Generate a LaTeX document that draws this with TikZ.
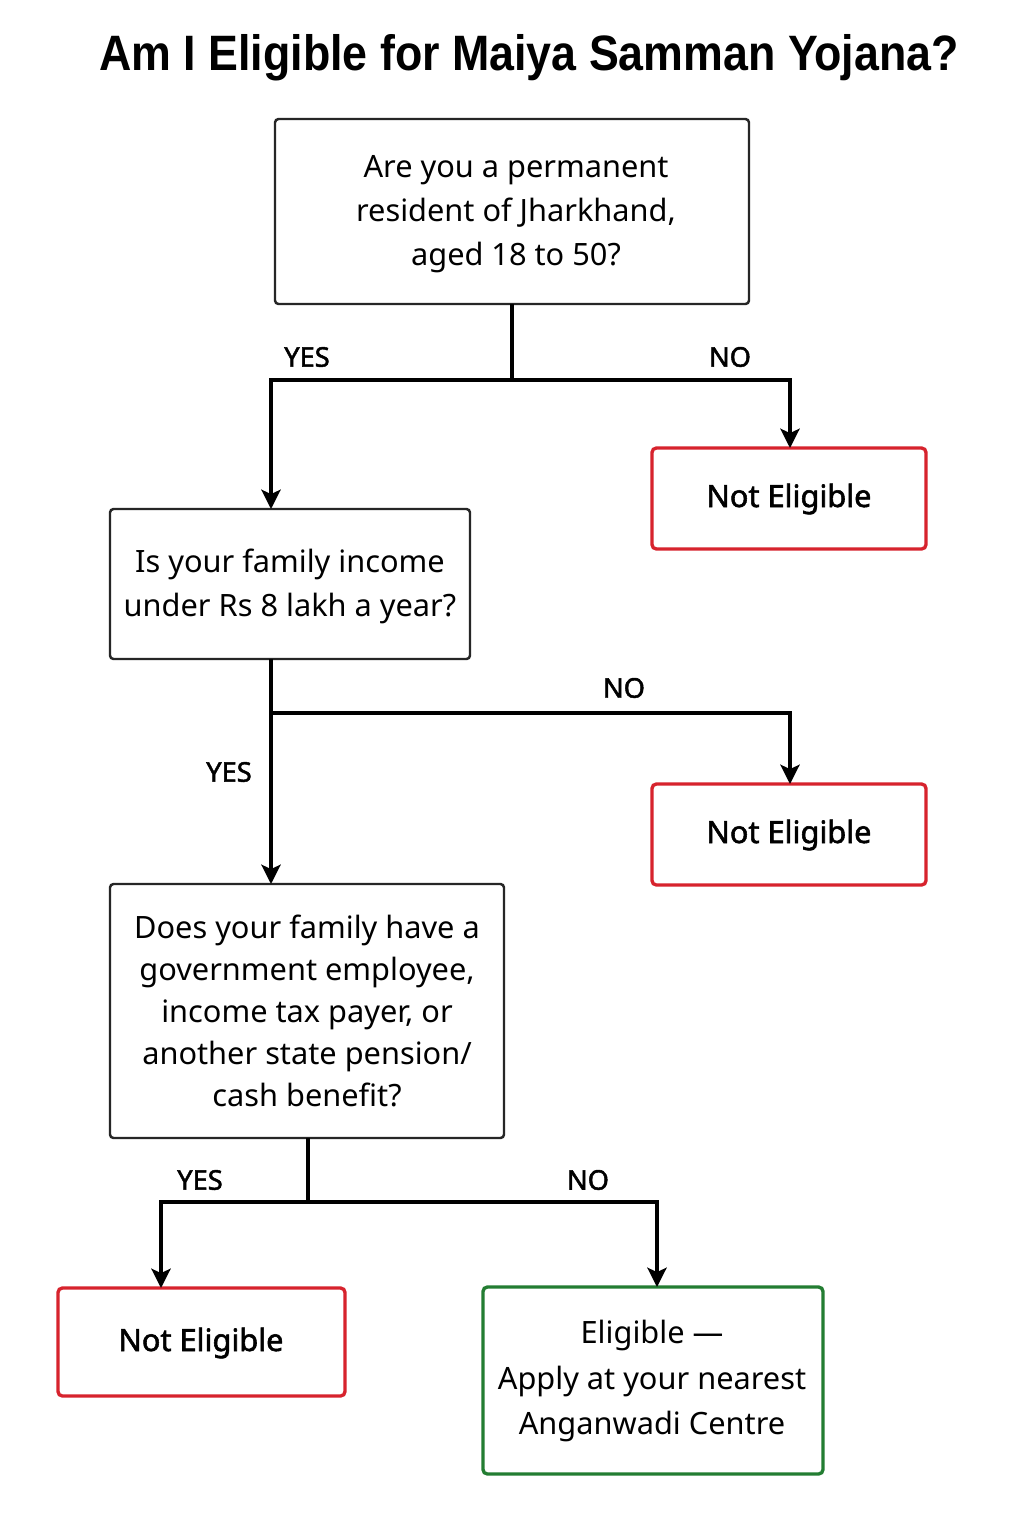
\documentclass[tikz,border=0pt]{standalone}
\usepackage{fontspec}
\setmainfont{Noto Sans}
\newfontfamily\titlefont[FakeStretch=0.9]{Liberation Sans Bold}
\newfontfamily\medfont[FakeBold=1.8]{Noto Sans}
\usetikzlibrary{arrows.meta}
\definecolor{nered}{RGB}{215,35,45}
\definecolor{elgreen}{RGB}{35,125,50}
\tikzset{
  qbox/.style={draw=black!85, line width=1.4pt, rounded corners=2pt},
  nebox/.style={draw=nered, line width=1.9pt, rounded corners=2.5pt},
  elbox/.style={draw=elgreen, line width=1.9pt, rounded corners=2.5pt},
  anchorbox/.style={inner sep=0pt, outer sep=0pt},
  conn/.style={line width=1.8pt, black},
  arr/.style={conn, -{Stealth[length=11pt,width=11pt,inset=2.5pt]}},
  lab/.style={font=\medfont\fontsize{15.5}{18}\selectfont},
  txt/.style={font=\fontsize{17.5}{25}\selectfont, align=center},
  netxt/.style={font=\medfont\fontsize{17.5}{25}\selectfont, align=center},
}
\begin{document}
\begin{tikzpicture}[x=0.02cm,y=-0.02cm]
\useasboundingbox[fill=white] (0,0) rectangle (1024,1536);
\node[font=\titlefont\fontsize{28.3}{34}\selectfont] (title) at (529,58) {Am I Eligible for Maiya Samman Yojana?};
% boxes
\draw[qbox] (275,119) rectangle (749,304);
\node[anchorbox, minimum width=474*0.02cm, minimum height=185*0.02cm] (q1) at (512,211.5) {};
\node[txt] (q1t) at (516,214) {Are you a permanent\\resident of Jharkhand,\\aged 18 to 50?};
\draw[nebox] (652,448) rectangle (926,549);
\node[anchorbox, minimum width=274*0.02cm, minimum height=101*0.02cm] (ne1) at (789,498.5) {};
\node[netxt] (ne1t) at (789,499) {Not Eligible};
\draw[qbox] (110,509) rectangle (470,659);
\node[anchorbox, minimum width=360*0.02cm, minimum height=150*0.02cm] (q2) at (290,584) {};
\node[txt] (q2t) at (290,586) {Is your family income\\under Rs 8 lakh a year?};
\draw[nebox] (652,784) rectangle (926,885);
\node[anchorbox, minimum width=274*0.02cm, minimum height=101*0.02cm] (ne2) at (789,834.5) {};
\node[netxt] (ne2t) at (789,835) {Not Eligible};
\draw[qbox] (110,884) rectangle (504,1138);
\node[anchorbox, minimum width=394*0.02cm, minimum height=254*0.02cm] (q3) at (307,1011) {};
\node[txt, font=\fontsize{17.5}{24}\selectfont] (q3t) at (307,1011) {Does your family have a\\government employee,\\income tax payer, or\\another state pension/\\cash benefit?};
\draw[nebox] (58,1288) rectangle (345,1396);
\node[anchorbox, minimum width=287*0.02cm, minimum height=108*0.02cm] (ne3) at (201.5,1342) {};
\node[netxt] (ne3t) at (201,1343) {Not Eligible};
\draw[elbox] (483,1287) rectangle (823,1474);
\node[anchorbox, minimum width=340*0.02cm, minimum height=187*0.02cm] (el) at (653,1380.5) {};
\node[txt, font=\fontsize{17.5}{26}\selectfont] (elt) at (652,1381) {Eligible —\\Apply at your nearest\\Anganwadi Centre};
% coordinates
\coordinate (j1) at (512,380);
\coordinate (j1l) at (271,380);
\coordinate (j1r) at (790,380);
\coordinate (j2) at (271,713);
\coordinate (j2r) at (790,713);
\coordinate (j3) at (308,1202);
\coordinate (j3l) at (161,1202);
\coordinate (j3r) at (657,1202);
% connectors
\draw[conn] (q1.south -| j1) -- (j1);
\draw[arr] (j1) -- (j1l) -- (j1l |- q2.north);
\draw[arr] (j1) -- (j1r) -- (j1r |- ne1.north);
\draw[arr] (j1l |- q2.south) -- (j2) -- (j2 |- q3.north);
\draw[arr] (j2) -- (j2r) -- (j2r |- ne2.north);
\draw[conn] (j3 |- q3.south) -- (j3);
\draw[arr] (j3) -- (j3l) -- (j3l |- ne3.north);
\draw[arr] (j3) -- (j3r) -- (j3r |- el.north);
% labels
\node[lab] (y1) at (307,357) {YES};
\node[lab] (n1) at (730,357) {NO};
\node[lab] (n2) at (624,688) {NO};
\node[lab] (y2) at (229,772) {YES};
\node[lab] (y3) at (200,1180) {YES};
\node[lab] (n3) at (588,1180) {NO};
\end{tikzpicture}
\end{document}
